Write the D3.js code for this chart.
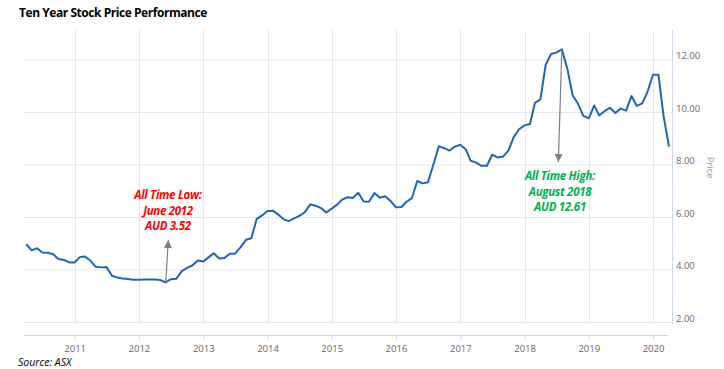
<!DOCTYPE html>
<html>
<head>
<meta charset="utf-8">
<script src="https://cdn.jsdelivr.net/npm/d3@7/dist/d3.min.js"></script>
<style>
  html, body { margin: 0; padding: 0; background: #fff; }
  svg { display: block; }
</style>
</head>
<body>
<svg id="chart" width="724" height="369"></svg>
<script>
// ---- data ----
const startMonth = "2010-04";   // first monthly observation
const prices = [
  4.98, 4.75, 4.83, 4.67, 4.66, 4.60, 4.42, 4.38, 4.29,
  4.29, 4.50, 4.51, 4.35, 4.12, 4.10, 4.11, 3.78, 3.71, 3.68, 3.66, 3.63,
  3.63, 3.64, 3.64, 3.64, 3.62, 3.53, 3.65, 3.67, 3.96, 4.08, 4.18, 4.36,
  4.32, 4.49, 4.64, 4.44, 4.46, 4.62, 4.62, 4.87, 5.15, 5.21, 5.95, 6.08,
  6.25, 6.26, 6.12, 5.94, 5.86, 5.97, 6.06, 6.20, 6.50, 6.45, 6.36, 6.19,
  6.34, 6.49, 6.68, 6.77, 6.74, 6.94, 6.61, 6.60, 6.93, 6.75, 6.81, 6.63,
  6.39, 6.40, 6.60, 6.74, 7.39, 7.30, 7.34, 8.02, 8.72, 8.64, 8.55, 8.70,
  8.77, 8.59, 8.16, 8.09, 7.97, 7.97, 8.39, 8.29, 8.32, 8.55, 9.07, 9.36,
  9.51, 9.56, 10.37, 10.50, 11.82, 12.23, 12.28, 12.41, 11.67, 10.66, 10.33, 9.87,
  9.78, 10.27, 9.89, 10.05, 10.18, 9.98, 10.15, 10.07, 10.63, 10.25, 10.35, 10.79,
  11.44, 11.44, 9.87, 8.70
];
const yTicks = [2, 4, 6, 8, 10, 12];
const xTickYears = [2011, 2012, 2013, 2014, 2015, 2016, 2017, 2018, 2019, 2020];
const titleText = "Ten Year Stock Price Performance";
const sourceText = "Source: ASX";
const yAxisTitle = "Price";
const lowNote = { month: "2012-06", value: 3.53, lines: ["All Time Low:", "June 2012", "AUD 3.52"] };
const highNote = { month: "2018-08", value: 12.41, lines: ["All Time High:", "August 2018", "AUD 12.61"] };

// ---- build ----
const parse = d3.timeParse("%Y-%m");
const t0 = parse(startMonth);
const data = prices.map((v, i) => ({ date: d3.timeMonth.offset(t0, i), value: v }));

const svg = d3.select("#chart");
const plot = { left: 24, right: 672, top: 30, bottom: 322.5 };

const x = d3.scaleTime()
  .domain([data[0].date, data[data.length - 1].date])
  .range([26.3, 669]);
const y = d3.scaleLinear().domain([2, 12]).range([plot.bottom, 60]);

const gridColor = "#e6e6e6";
const axisColor = "#ccd6eb";
const labelColor = "#666666";
const font = "'Open Sans', 'DejaVu Sans', sans-serif";

// horizontal grid
svg.append("g").selectAll("line").data(yTicks).join("line")
  .attr("x1", plot.left).attr("x2", plot.right)
  .attr("y1", d => y(d)).attr("y2", d => y(d))
  .attr("stroke", gridColor).attr("stroke-width", 1);

// vertical grid
const yearDates = xTickYears.map(yr => new Date(yr, 0, 1));
svg.append("g").selectAll("line").data(yearDates).join("line")
  .attr("x1", d => Math.round(x(d)) + 0.5).attr("x2", d => Math.round(x(d)) + 0.5)
  .attr("y1", plot.top).attr("y2", plot.bottom)
  .attr("stroke", gridColor).attr("stroke-width", 1);

// right axis line
svg.append("line")
  .attr("x1", plot.right + 0.5).attr("x2", plot.right + 0.5)
  .attr("y1", plot.top).attr("y2", plot.bottom + 2)
  .attr("stroke", axisColor).attr("stroke-width", 1);

// right axis labels
svg.append("g").selectAll("text").data(yTicks).join("text")
  .attr("x", 676).attr("y", d => y(d) - 1)
  .attr("font-family", font).attr("font-size", 9.5)
  .attr("fill", labelColor)
  .text(d => d3.format(".2f")(d));

// axis title
svg.append("text")
  .attr("transform", `translate(707,${y(7.9)}) rotate(90)`)
  .attr("text-anchor", "middle")
  .attr("font-family", font).attr("font-size", 9.5)
  .attr("fill", "#999999")
  .text(yAxisTitle);

// bottom x axis (offset)
const xAxisY = 335;
const xAxis = d3.axisBottom(x)
  .tickValues(yearDates)
  .tickFormat(d3.timeFormat("%Y"))
  .tickSize(5)
  .tickPadding(5);
const gx = svg.append("g").attr("transform", `translate(0,${xAxisY})`).call(xAxis);
gx.select(".domain").remove();
gx.append("line").attr("x1", 24).attr("x2", 668).attr("y1", 0.5).attr("y2", 0.5)
  .attr("stroke", axisColor);
gx.selectAll(".tick line").attr("stroke", axisColor);
gx.selectAll(".tick text").attr("fill", labelColor)
  .attr("font-family", font).attr("font-size", 9.5);

// price line
const line = d3.line().x(d => x(d.date)).y(d => y(d.value));
svg.append("path").datum(data)
  .attr("d", line)
  .attr("fill", "none")
  .attr("stroke", "#1f65b5")
  .attr("stroke-width", 2)
  .attr("stroke-linejoin", "round");

// arrows
const defs = svg.append("defs");
defs.append("marker").attr("id", "arrow")
  .attr("viewBox", "0 0 10 10").attr("refX", 10).attr("refY", 5)
  .attr("markerWidth", 8).attr("markerHeight", 8)
  .attr("markerUnits", "userSpaceOnUse")
  .attr("orient", "auto")
  .append("path").attr("d", "M0,0 L10,5 L0,10 Z").attr("fill", "#7f7f7f");

const lowX = x(parse(lowNote.month));
svg.append("line")
  .attr("x1", lowX).attr("y1", y(lowNote.value) + 1)
  .attr("x2", lowX + 2.7).attr("y2", 240)
  .attr("stroke", "#7f7f7f").attr("stroke-width", 1.2)
  .attr("marker-end", "url(#arrow)");

const highX = x(parse(highNote.month));
svg.append("line")
  .attr("x1", highX).attr("y1", y(highNote.value))
  .attr("x2", highX - 3.5).attr("y2", 162)
  .attr("stroke", "#7f7f7f").attr("stroke-width", 1.2)
  .attr("marker-end", "url(#arrow)");

// annotation texts
function note(lines, cx, cy0, color) {
  const t = svg.append("text")
    .attr("text-anchor", "middle")
    .attr("font-family", "'Open Sans', sans-serif")
    .attr("font-weight", "bold").attr("font-style", "italic")
    .attr("font-size", 11.5).attr("fill", color)
    .attr("letter-spacing", -0.3);
  lines.forEach((l, i) => {
    t.append("tspan").attr("x", cx).attr("y", cy0 + i * 15.5).text(l);
  });
}
note(lowNote.lines, 168, 199, "#ff0000");
note(highNote.lines, 560, 180, "#00b050");

// title
svg.append("text")
  .attr("x", 19).attr("y", 17)
  .attr("font-family", "'Open Sans', sans-serif")
  .attr("font-weight", "bold").attr("font-size", 12)
  .attr("letter-spacing", -0.45)
  .attr("fill", "#000")
  .text(titleText);

// source
svg.append("text")
  .attr("x", 18).attr("y", 365.5)
  .attr("font-family", "'Open Sans', sans-serif")
  .attr("font-style", "italic").attr("font-size", 10.5)
  .attr("fill", "#000")
  .text(sourceText);
</script>
</body>
</html>
